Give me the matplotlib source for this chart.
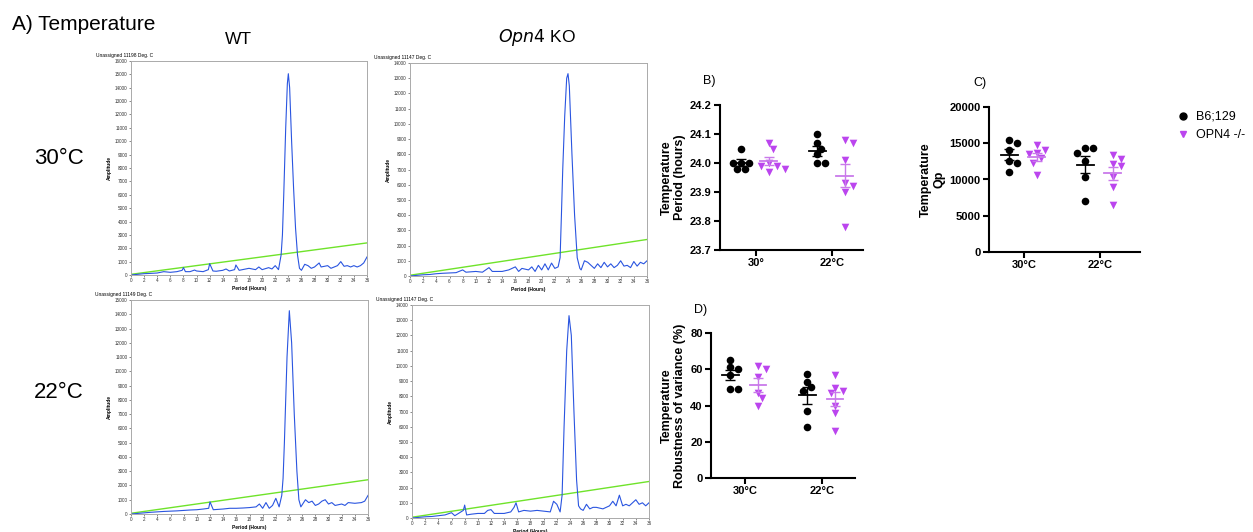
import matplotlib
matplotlib.use("Agg")
import matplotlib.pyplot as plt
import numpy as np

plt.rcParams['font.family'] = ['Liberation Sans', 'DejaVu Sans']

W, H = 1253, 532

# ---- periodogram curves (period in hours, amplitude) ----
wt30_x = [0, 1, 2, 3, 4, 5, 6, 7, 7.8, 8, 8.3, 9, 9.7, 10, 11, 11.8, 12, 12.5, 13, 14, 14.5, 15, 15.8, 16, 16.5, 17, 18, 19,
          19.5, 20, 21, 21.5, 22, 22.5, 22.9, 23.1, 23.3, 23.6, 23.85, 24.0, 24.2, 24.5, 24.8, 25.1, 25.4, 25.7, 26, 26.5,
          27, 27.5, 28, 28.7, 29, 30, 30.5, 31, 31.5, 32, 32.5, 33, 33.5, 34, 34.5, 35, 35.5, 36]
wt30_y = [0, 50, 100, 120, 150, 250, 200, 250, 350, 550, 250, 250, 370, 300, 250, 400, 850, 300, 280, 350, 450, 300, 400, 750,
          350, 400, 500, 400, 600, 400, 550, 450, 700, 400, 1500, 3000, 6000, 11000, 14300, 15050, 14000, 10000, 6500, 3500,
          1500, 500, 350, 800, 700, 500, 600, 900, 600, 700, 500, 600, 700, 1000, 650, 700, 600, 700, 600, 700, 900, 1350]

ko30_x = [0, 1, 2, 3, 4, 5, 6, 7, 8, 8.5, 10, 11, 12, 12.5, 14, 15, 16, 16.5, 17, 18, 18.5, 19, 19.5, 20, 20.5, 21, 21.5,
          22, 22.5, 22.8, 23.0, 23.2, 23.5, 23.8, 24.0, 24.2, 24.6, 25.0, 25.4, 25.8, 26, 26.5, 27, 27.5, 28, 28.5, 29,
          29.5, 30, 30.5, 31, 31.5, 32, 32.5, 33, 33.5, 34, 34.5, 35, 35.5, 36]
ko30_y = [0, 40, 80, 100, 150, 180, 200, 220, 400, 250, 300, 250, 550, 300, 300, 400, 600, 300, 500, 400, 600, 300, 700,
          400, 800, 400, 850, 500, 600, 1200, 4000, 7000, 10500, 13000, 13300, 12500, 8000, 4000, 1200, 500, 400, 1000,
          900, 700, 500, 800, 550, 900, 600, 800, 550, 700, 1000, 650, 700, 550, 950, 650, 900, 800, 1000]

wt22_x = [0, 1, 2, 3, 4, 5, 6, 7, 8, 9, 10, 11, 11.8, 12, 12.5, 14, 15, 16, 17, 18, 19, 19.5, 20, 20.5, 21, 21.5, 22, 22.5,
          22.9, 23.1, 23.3, 23.7, 24.05, 24.4, 24.8, 25.2, 25.5, 25.8, 26.5, 27, 27.5, 28, 28.5, 29, 29.5, 30, 30.5, 31, 32,
          32.5, 33, 34, 35, 35.5, 36]
wt22_y = [0, 40, 80, 120, 150, 180, 200, 220, 250, 280, 300, 350, 400, 850, 300, 350, 400, 400, 420, 450, 500, 700, 400, 800,
          400, 600, 1100, 500, 1300, 2500, 5000, 11000, 14250, 12000, 7000, 3000, 1000, 500, 1000, 800, 900, 600, 700, 900,
          1000, 700, 800, 600, 700, 600, 800, 750, 800, 900, 1300]

ko22_x = [0, 1, 2, 3, 4, 5, 6, 6.5, 7.8, 8, 8.3, 9, 10, 11, 11.5, 12, 12.5, 14, 15, 15.5, 15.8, 16.2, 17, 18, 19, 20, 21,
          21.5, 22, 22.5, 22.8, 23.1, 23.5, 23.85, 24.2, 24.6, 25.0, 25.3, 25.6, 26, 26.5, 27, 27.5, 28, 29, 30, 30.5, 31,
          31.5, 32, 32.5, 33, 34, 34.5, 35, 35.5, 36]
ko22_y = [0, 40, 80, 100, 150, 200, 350, 150, 500, 850, 200, 250, 300, 300, 500, 550, 300, 300, 400, 700, 1000, 400, 500,
          450, 500, 450, 400, 1100, 900, 400, 1500, 6000, 11000, 13300, 12000, 7000, 2500, 800, 600, 500, 900, 600, 700,
          700, 600, 800, 1100, 800, 1500, 800, 900, 800, 1200, 900, 1000, 800, 1000]

thr_x = [0, 36]
thr_y = [50, 2400]

# ---- dot plots ----
groups = ["30°C", "22°C"]
period_wt30 = [24.05, 24.0, 24.0, 24.0, 23.98, 23.98]
period_ko30 = [24.07, 24.05, 24.0, 23.99, 23.98, 23.97, 23.99]
period_wt22 = [24.10, 24.07, 24.05, 24.03, 24.0, 24.0]
period_ko22 = [24.07, 24.08, 24.01, 23.92, 23.93, 23.90, 23.78]

qp_wt30 = [15500, 15100, 14100, 12500, 12300, 11100]
qp_ko30 = [14700, 14100, 13700, 13500, 12900, 12300, 10600]
qp_wt22 = [14300, 14300, 13700, 12500, 10300, 7100]
qp_ko22 = [13400, 12800, 12100, 11900, 10300, 9000, 6500]

rv_wt30 = [65, 61.5, 60, 57, 49, 49]
rv_ko30 = [62, 60, 56, 47, 44, 39.5]
rv_wt22 = [57.5, 53, 50, 48, 37, 28]
rv_ko22 = [57, 49.5, 48, 47, 40, 36, 26]

fig = plt.figure(figsize=(W / 100, H / 100), dpi=100)


def box(l, r, t, b):
    return [l / W, 1 - b / H, (r - l) / W, (b - t) / H]


def periodogram(rect, xs, ys, ymax, title):
    ax = fig.add_axes(rect)
    ax.plot(thr_x, thr_y, color='#6fe32a', lw=1.0)
    ax.plot(xs, ys, color='#2a55e0', lw=0.8)
    ax.set_xlim(0, 36)
    ax.set_ylim(0, ymax)
    ax.set_xticks(np.arange(0, 37, 2))
    ax.set_yticks(np.arange(0, ymax + 1, 1000))
    ax.tick_params(labelsize=3.3, length=1.5, width=0.4, pad=1, colors='#333333')
    for s in ax.spines.values():
        s.set_color('#aaaaaa')
        s.set_linewidth(0.7)
    ax.set_ylabel('Amplitude', fontsize=3.5, fontweight='bold', labelpad=2)
    ax.set_xlabel('Period (Hours)', fontsize=3.5, fontweight='bold', labelpad=1.5)
    ax.set_title(title, fontsize=3.5, loc='left', x=-0.15, pad=3)
    return ax


periodogram(box(131, 367, 61, 275), wt30_x, wt30_y, 16000, 'Unassigned 11198 Deg. C')
periodogram(box(410, 647, 63, 276), ko30_x, ko30_y, 14000, 'Unassigned 11147 Deg. C')
periodogram(box(131, 368, 300, 514), wt22_x, wt22_y, 15000, 'Unassigned 11149 Deg. C')
periodogram(box(412, 649, 305, 518), ko22_x, ko22_y, 14000, 'Unassigned 11147 Deg. C')

fig.text(12 / W, 1 - 24 / H, 'A) Temperature', fontsize=15, va='center', ha='left')
fig.text(238 / W, 1 - 40 / H, 'WT', fontsize=12.5, va='center', ha='center')
fig.text(537 / W, 1 - 38 / H, r'$\it{Opn4}$ KO', fontsize=12.5, va='center', ha='center')
fig.text(59 / W, 1 - 159 / H, '30°C', fontsize=16, va='center', ha='center')
fig.text(59 / W, 1 - 393 / H, '22°C', fontsize=16, va='center', ha='center')

purple = '#bb45ee'
purple_line = '#c97aea'


def swarm(ax, xc, vals, color, marker, size):
    ppu = ax.transData.transform((1, 0))[0] - ax.transData.transform((0, 0))[0]
    placed = []
    d = 4.0
    order = sorted(vals, reverse=True)
    xs, ys = [], []
    for v in order:
        yp = ax.transData.transform((xc, v))[1]
        k = 0
        while True:
            off = ((k + 1) // 2) * d * (1 if k % 2 else -1)
            if all((off - px) ** 2 + (yp - py) ** 2 >= 6.0 ** 2 for px, py in placed):
                break
            k += 1
        placed.append((off, yp))
        xs.append(xc + off / ppu)
        ys.append(v)
    ax.scatter(xs, ys, s=size, c=color, marker=marker, linewidths=0, zorder=3)
    m = np.mean(vals)
    sem = np.std(vals, ddof=1) / np.sqrt(len(vals))
    lc = 'black' if color == 'black' else purple_line
    ax.plot([xc - 0.11, xc + 0.11], [m, m], color=lc, lw=1.3, zorder=4)
    ax.errorbar([xc], [m], yerr=[sem], color=lc, lw=1.0, capsize=3.5, capthick=1.0, zorder=4)


def dotpanel(rect, xlim, ylim, yticks, ylabel, data, xlabels, label, label_xy):
    ax = fig.add_axes(rect)
    ax.set_xlim(*xlim)
    ax.set_ylim(*ylim)
    ax.set_yticks(yticks)
    ax.set_xticks([0, 1])
    ax.set_xticklabels(xlabels)
    for s in ['top', 'right']:
        ax.spines[s].set_visible(False)
    for s in ['left', 'bottom']:
        ax.spines[s].set_linewidth(1.5)
    ax.tick_params(length=4, width=1.5, labelsize=8, pad=2)
    for t in ax.get_xticklabels() + ax.get_yticklabels():
        t.set_fontweight('bold')
    ax.set_ylabel(ylabel, fontsize=9, fontweight='bold', labelpad=3, linespacing=1.1)
    wt30, ko30, wt22, ko22 = data
    swarm(ax, -0.19, wt30, 'black', 'o', 30)
    swarm(ax, 0.17, ko30, purple, 'v', 30)
    swarm(ax, 0.81, wt22, 'black', 'o', 30)
    swarm(ax, 1.17, ko22, purple, 'v', 30)
    fig.text(label_xy[0] / W, 1 - label_xy[1] / H, label, fontsize=9, va='center', ha='center')
    return ax


dotpanel(box(720, 863, 105, 250), (-0.47, 1.41), (23.7, 24.2), np.arange(23.7, 24.21, 0.1),
         'Temperature\nPeriod (hours)', [period_wt30, period_ko30, period_wt22, period_ko22],
         ['30°', '22°C'], 'B)', (709, 81))
dotpanel(box(989, 1140, 107, 252), (-0.46, 1.53), (0, 20000), np.arange(0, 20001, 5000),
         'Temperature\nQp', [qp_wt30, qp_ko30, qp_wt22, qp_ko22],
         groups, 'C)', (980, 83))
dotpanel(box(711, 855, 333, 478), (-0.44, 1.43), (0, 80), np.arange(0, 81, 20),
         'Temperature\nRobustness of variance (%)', [rv_wt30, rv_ko30, rv_wt22, rv_ko22],
         groups, 'D)', (701, 310))

h_wt = plt.Line2D([], [], marker='o', color='black', linestyle='none', markersize=5)
h_ko = plt.Line2D([], [], marker='v', color=purple, linestyle='none', markersize=5)
fig.legend([h_wt, h_ko], ['B6;129', 'OPN4 -/-'], loc='center left',
           bbox_to_anchor=(1165 / W, 1 - 126 / H), frameon=False, fontsize=9,
           handletextpad=0.6, labelspacing=0.5, handlelength=1.0)

fig.savefig('out.png', dpi=100)
